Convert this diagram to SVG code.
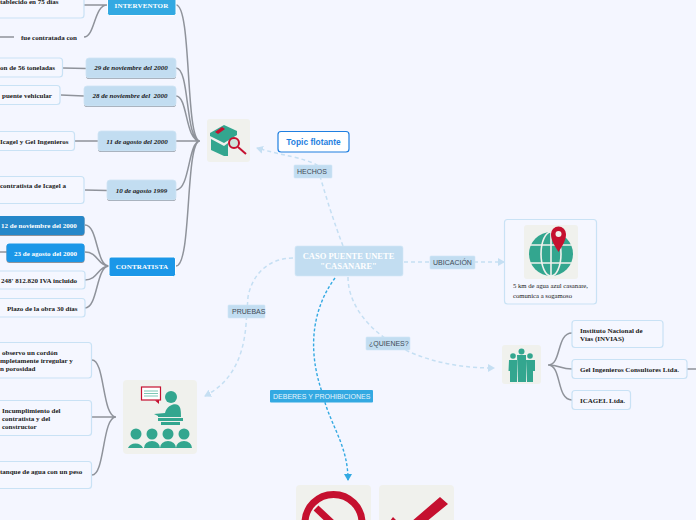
<svg xmlns="http://www.w3.org/2000/svg" width="696" height="520" viewBox="0 0 696 520">
<style>
text{font-family:"Liberation Serif","Times New Roman",serif;font-size:7px;font-weight:700;fill:#1a1a1a}
text.date{font-style:italic}
.sub{fill:#f5f7ff;stroke:#c9e2f5;stroke-width:1.2}
.date-box{fill:#c2ddf1;stroke:#cfe5f5;stroke-width:.8}
.shade{fill:#8f939b}
.wh{fill:#fff}
.lab{fill:#c2ddf1;stroke:#d0e6f6;stroke-width:.6}
.lab-t{font-family:"Liberation Sans",Arial,sans-serif;font-size:7px;font-weight:400;fill:#3f4a55}
.g{fill:none;stroke:#8f939b;stroke-width:1.5}
.d{fill:none;stroke:#c5dff3;stroke-width:1.5;stroke-dasharray:4 3}
.dd{fill:none;stroke:#33a9e2;stroke-width:1.4;stroke-dasharray:3 2}
.ic{fill:#f0f1ed}
.t{fill:#33a68f}
.r{fill:#c5102f}
</style>
<defs>
<marker id="al" markerWidth="8" markerHeight="8" refX="6" refY="4" orient="auto" markerUnits="userSpaceOnUse"><path d="M0 0L7 4L0 8Z" fill="#c5dff3"/></marker>
<marker id="ad" markerWidth="8" markerHeight="8" refX="6" refY="4" orient="auto" markerUnits="userSpaceOnUse"><path d="M0 0L7 4L0 8Z" fill="#33a9e2"/></marker>
</defs>
<rect width="696" height="520" fill="#f4f6ff"/>
<g id="connectors">
<path class="g" d="M200 141C185 141 192 5 176 5M200 141C185 141 190 68 176 68M200 141C185 141 188 96 176 96M200 141H176M200 141C188 141 190 190 176 190M200 141C185 141 192 266 176 266"/>
<path class="g" d="M84 5H107M84 37C95 37 94 5 107 5M0 37H14M63 68L86 68.500M61 95L84 96M75 141H98M85 190L107 190.500"/>
<path class="g" d="M109 266C96 266 98 225 85 225M109 266C98 266 98 252 85 252M109 266C98 266 98 280 85 280M109 266C96 266 98 308 85 308M0 252H7"/>
<path class="g" d="M116 417C102 417 105 360 92 360M116 417H92M116 417C102 417 105 475 92 475"/>
<path class="g" d="M548 365C562 365 556 333 572 333M548 365C560 365 560 369 572 369M548 365C562 365 556 400 572 400M687 369H696"/>
<path class="d" marker-end="url(#al)" d="M343 246C335 225 325 195 317 165C305 158 280 155 257 148"/>
<path class="d" marker-end="url(#al)" d="M293 258C268 258 252 275 248 297L246 325C243 360 230 383 205 396"/>
<path class="d" marker-end="url(#al)" d="M404 262H504"/>
<path class="d" marker-end="url(#al)" d="M348 277C348 320 400 368 494 368"/>
<path class="dd" marker-end="url(#ad)" d="M335 278C315 305 305 345 323 395C330 425 348 445 348 480"/>
</g>
<g id="central"><rect x="295" y="246" width="108" height="30" rx="2" fill="#c2ddf1" stroke="#d4e8f7" stroke-width=".6"/><text class="wh" x="348.500" y="259" text-anchor="middle" style="font-size:8.500px">CASO PUENTE UNETE</text><text class="wh" x="348.500" y="269" text-anchor="middle" style="font-size:8.500px">"CASANARE"</text></g>
<g id="lab-hechos"><rect class="lab" x="294" y="165" width="38" height="13" rx="1"/><text class="lab-t" x="297" y="174">HECHOS</text></g>
<g id="lab-ubicacion"><rect class="lab" x="430" y="256" width="45" height="13" rx="1"/><text class="lab-t" x="433" y="265">UBICACIÓN</text></g>
<g id="lab-quienes"><rect class="lab" x="366" y="337" width="44" height="13" rx="1"/><text class="lab-t" x="369" y="346">¿QUIENES?</text></g>
<g id="lab-pruebas"><rect class="lab" x="228" y="305" width="37" height="13" rx="1"/><text class="lab-t" x="232" y="314">PRUEBAS</text></g>
<g id="lab-deberes"><rect x="270" y="390" width="103" height="12.500" rx="1" fill="#33a9e2"/><text class="lab-t" x="273" y="399" style="fill:#e8f5fc">DEBERES Y PROHIBICIONES</text></g>
<g id="topic"><rect x="278" y="131.500" width="71" height="20.500" rx="3" fill="#fff" stroke="#1f7fe0" stroke-width="1.200"/><text x="313.500" y="144.500" text-anchor="middle" style="font-family:'Liberation Sans',Arial,sans-serif;font-size:8.400px;fill:#1f7fe0">Topic flotante</text></g>
<g id="interventor"><rect x="107.500" y="-6" width="68.500" height="21.500" rx="2" fill="#33a9e2" stroke="#fff"/><text class="wh" x="141.500" y="7.500" text-anchor="middle" letter-spacing=".2">INTERVENTOR</text></g>
<g id="n-75"><rect class="sub" x="-10" y="-12" width="94" height="30" rx="3"/><text x="0" y="3.500">tablecido en 75 días</text></g>
<g id="n-contratada"><text x="21" y="39.500">fue contratada con</text></g>
<g id="d-29"><rect class="shade" x="86" y="59" width="90" height="20" rx="3"/><rect class="date-box" x="86" y="58" width="90" height="20" rx="3"/><text class="date" x="131" y="70" text-anchor="middle">29 de noviembre del 2000</text></g>
<g id="n-56"><rect class="sub" x="-10" y="58" width="72.500" height="19" rx="3"/><text x="0" y="70">on de 56 toneladas</text></g>
<g id="d-28"><rect class="shade" x="84" y="87" width="92" height="20" rx="3"/><rect class="date-box" x="84" y="86" width="92" height="20" rx="3"/><text class="date" x="130" y="98" text-anchor="middle" xml:space="preserve">28 de noviembre del  2000</text></g>
<g id="n-vehicular"><rect class="sub" x="-10" y="85.500" width="70" height="19" rx="3"/><text x="2" y="97.500">puente vehicular</text></g>
<g id="d-11"><rect class="shade" x="98" y="132" width="78" height="20" rx="3"/><rect class="date-box" x="98" y="131" width="78" height="20" rx="3"/><text class="date" x="137" y="143.500" text-anchor="middle">11 de agosto del 2000</text></g>
<g id="n-icagel"><rect class="sub" x="-10" y="131.500" width="84.500" height="19" rx="3"/><text x="0" y="143.500">Icagel y Gel Ingenieros</text></g>
<g id="d-10"><rect class="shade" x="107" y="181" width="69" height="20" rx="3"/><rect class="date-box" x="107" y="180" width="69" height="20" rx="3"/><text class="date" x="141.500" y="192.500" text-anchor="middle">10 de agosto 1999</text></g>
<g id="n-contratista-icagel"><rect class="sub" x="-10" y="176.500" width="94" height="27" rx="3"/><text x="0" y="188">contratista de Icagel a</text></g>
<g id="contratista"><rect x="109" y="257" width="66.500" height="19.500" rx="2" fill="#1b97e8" stroke="#fff"/><text class="wh" x="142" y="268.500" text-anchor="middle" letter-spacing=".2">CONTRATISTA</text></g>
<g id="n-12nov"><rect x="-10" y="216" width="94.500" height="20" rx="3" fill="#8f939b"/><rect x="-10" y="216" width="94.500" height="19" rx="3" fill="#2587c9"/><text class="wh" x="1" y="227.500">12 de noviembre del 2000</text></g>
<g id="n-23ago"><rect x="6.500" y="244" width="78" height="19" rx="3" fill="#8f939b"/><rect x="6.500" y="243.500" width="78" height="18.500" rx="3" fill="#1b97e8"/><text class="wh" x="14" y="255.500">23 de agosto del 2000</text></g>
<g id="n-248"><rect class="sub" x="-10" y="271" width="95" height="18" rx="3"/><text x="1" y="282.500">248' 812.820 IVA incluido</text></g>
<g id="n-plazo"><rect class="sub" x="-10" y="298.500" width="95" height="18.500" rx="3"/><text x="7" y="310.500">Plazo de la obra 30 días</text></g>
<g id="icon-hechos"><rect class="ic" x="207" y="119" width="43" height="43" rx="3"/><path class="t" d="M210 133L224 125L237 131V135L224 143L210 136Z"/><path class="t" d="M211 139L224 146L228 143V156L224 156L211 150Z"/><path class="r" d="M215 132L222 127L225 129L218 134Z"/><circle cx="234" cy="143" r="5" fill="#cfe5dd" stroke="#c5102f" stroke-width="2"/><path d="M238 147L246 154" stroke="#c5102f" stroke-width="2"/></g>
<g id="card-ubicacion"><rect class="sub" x="504.500" y="219.500" width="92" height="84.500" rx="3"/><rect class="ic" x="524" y="225" width="54" height="54" rx="3"/><circle cx="551" cy="254" r="22" class="t"/><g fill="none" stroke="#f0f1ed" stroke-width="1.600"><path d="M529 245H573M529 263H573M551 232V276"/><ellipse cx="551" cy="254" rx="10" ry="22"/></g><path class="r" d="M558.500 252C552 242 551 238 551 234A7.500 7.500 0 0 1 566 234C566 238 565 242 558.500 252Z"/><circle cx="558.500" cy="234" r="3" fill="#f0f1ed"/><text x="513" y="288" style="font-weight:400;font-size:6.700px">5 km de agua azul casanare,</text><text x="513" y="297.500" style="font-weight:400;font-size:6.700px">comunica a sogamoso</text></g>
<g id="icon-quienes"><rect class="ic" x="502" y="345" width="39" height="39" rx="3"/><g class="t"><circle cx="513" cy="356" r="2.800"/><circle cx="521.500" cy="351.500" r="3"/><circle cx="530" cy="356" r="2.800"/><path d="M509 360H517V382H510V371H508.500Z"/><path d="M517 355H526V382H518Z"/><path d="M526 360H535V371H533V382H527Z"/></g></g>
<g id="n-invias"><rect class="sub" x="572" y="320.500" width="91" height="27" rx="3"/><text x="580" y="332.500">Instituto Nacional de</text><text x="580" y="340.500">Vías (INVIAS)</text></g>
<g id="n-gel"><rect class="sub" x="572" y="359.500" width="115" height="19" rx="3"/><text x="580" y="371.500">Gel Ingenieros Consultores Ltda.</text></g>
<g id="n-icagel2"><rect class="sub" x="572" y="390.500" width="58.500" height="19" rx="3"/><text x="580" y="402.500">ICAGEL Ltda.</text></g>
<g id="icon-pruebas"><rect class="ic" x="123" y="380" width="74" height="74" rx="4"/><rect x="141.500" y="387" width="19" height="13" fill="#fff" stroke="#c5102f" stroke-width="1.200"/><path d="M155 400.500L159 404V400Z" class="r"/><path d="M144 391H158M144 393.500H158M144 396H158" stroke="#7dc7b5"/><circle class="t" cx="171" cy="397" r="6"/><path class="t" d="M154 414L165 413C167 405 175 403 178 405C181 407 181 412 181 417H158V416Z"/><rect class="t" x="158" y="418" width="25" height="3"/><rect class="t" x="161" y="422" width="19" height="3"/><g class="t"><circle cx="136" cy="434" r="5.500"/><circle cx="152" cy="434" r="5.500"/><circle cx="168" cy="434" r="5.500"/><circle cx="184" cy="434" r="5.500"/><path d="M128 448A8 7 0 0 1 143 448ZM144 448A8 7 0 0 1 160 448ZM160 448A8 7 0 0 1 176 448ZM176 448A8 7 0 0 1 192 448Z"/></g></g>
<g id="n-cordon"><rect class="sub" x="-10" y="342.500" width="101.500" height="35.500" rx="3"/><text x="2" y="354.500">observo un cordón</text><text x="0" y="362.500">mpletamente irregular y</text><text x="0" y="370.500">n porosidad</text></g>
<g id="n-incumplimiento"><rect class="sub" x="-10" y="400.500" width="101.500" height="35" rx="3"/><text x="2" y="412.500">Incumplimiento del</text><text x="2" y="420.500">contratista y del</text><text x="2" y="428.500">constructor</text></g>
<g id="n-tanque"><rect class="sub" x="-10" y="461.500" width="101.500" height="27" rx="3"/><text x="0" y="473.500">tanque de agua con un peso</text></g>
<g id="icon-prohibido"><rect class="ic" x="296" y="485" width="75" height="45" rx="4"/><circle cx="333.500" cy="523" r="28.500" fill="none" stroke="#c5102f" stroke-width="7"/><path d="M316 508L350 540" stroke="#c5102f" stroke-width="7"/></g>
<g id="icon-check"><rect class="ic" x="379" y="485" width="75" height="45" rx="4"/><path class="r" d="M390 521L393 517L404 528L440 497L448 504L404 540Z"/></g>
</svg>
